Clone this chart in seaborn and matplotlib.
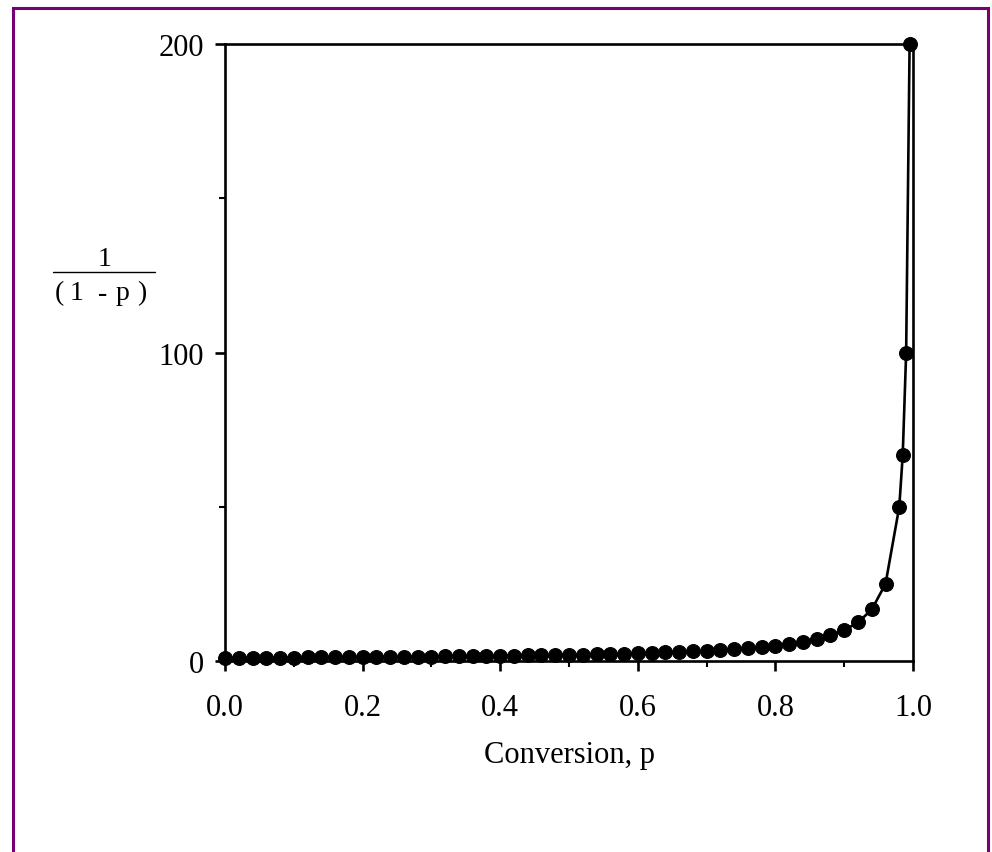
import matplotlib
matplotlib.use("Agg")
import matplotlib.pyplot as plt
import seaborn as sns
import pandas as pd
from matplotlib.patches import Rectangle
from matplotlib.lines import Line2D

# conversion p and 1/(1-p)
conversion = [0.00, 0.02, 0.04, 0.06, 0.08, 0.10, 0.12, 0.14, 0.16, 0.18,
              0.20, 0.22, 0.24, 0.26, 0.28, 0.30, 0.32, 0.34, 0.36, 0.38,
              0.40, 0.42, 0.44, 0.46, 0.48, 0.50, 0.52, 0.54, 0.56, 0.58,
              0.60, 0.62, 0.64, 0.66, 0.68, 0.70, 0.72, 0.74, 0.76, 0.78,
              0.80, 0.82, 0.84, 0.86, 0.88, 0.90, 0.92, 0.94, 0.96, 0.98,
              0.985, 0.99, 0.995]
inv_one_minus_p = [1.00, 1.02, 1.04, 1.06, 1.09, 1.11, 1.14, 1.16, 1.19, 1.22,
                   1.25, 1.28, 1.32, 1.35, 1.39, 1.43, 1.47, 1.52, 1.56, 1.61,
                   1.67, 1.72, 1.79, 1.85, 1.92, 2.00, 2.08, 2.17, 2.27, 2.38,
                   2.50, 2.63, 2.78, 2.94, 3.13, 3.33, 3.57, 3.85, 4.17, 4.55,
                   5.00, 5.56, 6.25, 7.14, 8.33, 10.0, 12.5, 16.7, 25.0, 50.0,
                   66.7, 100.0, 200.0]

x_ticks = [0.0, 0.2, 0.4, 0.6, 0.8, 1.0]
x_ticklabels = ["0.0", "0.2", "0.4", "0.6", "0.8", "1.0"]
y_ticks = [0, 100, 200]

df = pd.DataFrame({"p": conversion, "y": inv_one_minus_p})

sns.set_style("ticks")
plt.rcParams["font.family"] = ["Liberation Serif", "DejaVu Serif"]
plt.rcParams["text.color"] = "black"

fig = plt.figure(figsize=(9.92, 8.53), dpi=100)
ax = fig.add_axes([0.2268, 0.2239, 0.6936, 0.7233])

sns.lineplot(data=df, x="p", y="y", ax=ax, color="black", linewidth=1.9,
             marker="o", markersize=10, markeredgecolor="black",
             markerfacecolor="black", clip_on=False, zorder=3)

ax.set_xlim(0, 1)
ax.set_ylim(0, 200)
ax.set_xticks(x_ticks)
ax.set_xticklabels(x_ticklabels)
ax.set_xticks([0.1, 0.3, 0.5, 0.7, 0.9], minor=True)
ax.set_yticks(y_ticks)
ax.set_yticks([50, 150], minor=True)

for side in ["left", "right", "top", "bottom"]:
    ax.spines[side].set_visible(True)
    ax.spines[side].set_linewidth(1.9)
    ax.spines[side].set_color("black")

ax.tick_params(axis="both", which="major", direction="out", length=7,
               width=1.9, labelsize=22, colors="black")
ax.tick_params(axis="both", which="minor", direction="out", length=4.5,
               width=1.5, colors="black")
ax.tick_params(axis="x", which="major", pad=16)
ax.tick_params(axis="y", which="major", pad=8)

ax.set_xlabel("Conversion, p", fontsize=22, labelpad=13, color="black")
ax.set_ylabel("")

# fraction-style y label, glyphs spread out as in the original
fig.text(105 / 992, 1 - 260 / 853, "1", fontsize=20, ha="center", va="center")
denominator = [("(", 59), ("1", 77), ("-", 103), ("p", 123), (")", 142)]
for glyph, xpix in denominator:
    fig.text(xpix / 992, 1 - 294 / 853, glyph, fontsize=20,
             ha="center", va="center")
fig.add_artist(Line2D([53 / 992, 155 / 992], [1 - 273 / 853, 1 - 273 / 853],
                      color="black", linewidth=1.0))

# purple frame around the figure
fig.add_artist(Rectangle((13 / 992, -0.05), (988 - 13) / 992, 1.05 - 8.5 / 853,
                         transform=fig.transFigure, fill=False,
                         edgecolor="#760076", linewidth=2.2))

fig.savefig("out.png", dpi=100)
